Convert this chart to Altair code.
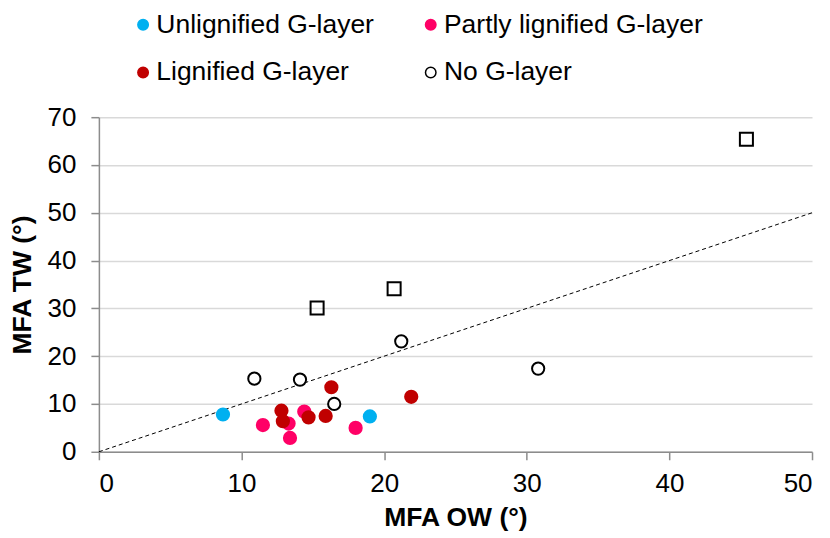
import altair as alt
import pandas as pd

# Data
categories = ["Unlignified G-layer", "Lignified G-layer", "Partly lignified G-layer", "No G-layer"]
colors_fill = ["#00b0f0", "#c00000", "#ff0066", "white"]
colors_stroke = ["#00b0f0", "#c00000", "#ff0066", "black"]

unlig_ow = [8.7, 19.0]
unlig_tw = [7.8, 7.4]

partly_ow = [11.5, 13.3, 13.4, 14.4, 18.0]
partly_tw = [5.6, 5.9, 2.9, 8.4, 5.0]

lig_ow = [12.8, 12.9, 14.7, 15.9, 16.3, 21.9]
lig_tw = [8.6, 6.4, 7.2, 7.5, 13.5, 11.5]

nog_ow = [10.9, 14.1, 16.5, 21.2, 30.8]
nog_tw = [15.3, 15.1, 10.0, 23.1, 17.4]

sq_ow = [15.3, 20.7, 45.4]
sq_tw = [30.1, 34.1, 65.4]

line_ow = [0, 50]
line_tw = [0, 50]

rows = []
for name, xs, ys in [
    ("Unlignified G-layer", unlig_ow, unlig_tw),
    ("Partly lignified G-layer", partly_ow, partly_tw),
    ("Lignified G-layer", lig_ow, lig_tw),
    ("No G-layer", nog_ow, nog_tw),
]:
    for a, b in zip(xs, ys):
        rows.append({"OW": a, "TW": b, "group": name})
circ_df = pd.DataFrame(rows)
sq_df = pd.DataFrame({"OW": sq_ow, "TW": sq_tw})
line_df = pd.DataFrame({"OW": line_ow, "TW": line_tw})

FONT = "Liberation Sans"

xscale = alt.Scale(domain=[0, 50], nice=False)
yscale = alt.Scale(domain=[0, 70], nice=False)

xax = alt.Axis(values=[0, 10, 20, 30, 40, 50], title="MFA OW (°)", grid=False)
yax = alt.Axis(values=[0, 10, 20, 30, 40, 50, 60, 70], title="MFA TW (°)", grid=True)

line = alt.Chart(line_df).mark_line(color="black", strokeWidth=1, strokeDash=[4, 3]).encode(
    x=alt.X("OW:Q", scale=xscale, axis=xax),
    y=alt.Y("TW:Q", scale=yscale, axis=yax),
)

legend = alt.Legend(
    title=None,
    orient="none",
    legendX=31,
    legendY=-106,
    columns=2,
    columnPadding=43,
    rowPadding=21,
    labelFont=FONT,
    labelFontSize=26.5,
    labelColor="black",
    labelOffset=0,
    labelLimit=400,
    symbolType="circle",
    symbolSize=110,
    symbolStrokeWidth=1.5,
)

points = alt.Chart(circ_df).mark_point(filled=False, shape="circle", size=150, strokeWidth=2, opacity=1).encode(
    x=alt.X("OW:Q", scale=xscale),
    y=alt.Y("TW:Q", scale=yscale),
    fill=alt.Fill("group:N", scale=alt.Scale(domain=categories, range=colors_fill), legend=legend),
    stroke=alt.Stroke("group:N", scale=alt.Scale(domain=categories, range=colors_stroke), legend=legend),
)

squares = alt.Chart(sq_df).mark_point(shape="square", size=170, strokeWidth=2, color="black", filled=False, opacity=1).encode(
    x=alt.X("OW:Q", scale=xscale),
    y=alt.Y("TW:Q", scale=yscale),
)

chart = alt.layer(line, points, squares).properties(
    width=714,
    height=335,
    autosize=alt.AutoSizeParams(type="none"),
    padding={"left": 91, "top": 109, "right": 10, "bottom": 84},
    background="white",
).configure_view(stroke=None).configure_axis(
    labelFont=FONT,
    labelFontSize=26,
    labelColor="black",
    titleFont=FONT,
    titleFontSize=26.5,
    titleFontWeight="bold",
    titleColor="black",
    domainColor="#8c8c8c",
    domainWidth=1.5,
    tickColor="#8c8c8c",
    tickWidth=1.5,
    tickSize=8,
    gridColor="#d9d9d9",
    gridWidth=1.5,
).configure_axisX(
    labelPadding=11,
    titlePadding=8,
    labelAngle=0,
).configure_axisY(
    labelPadding=15,
    titlePadding=11,
)

chart.save("out.html", embed_options={"renderer": "svg", "actions": False})
